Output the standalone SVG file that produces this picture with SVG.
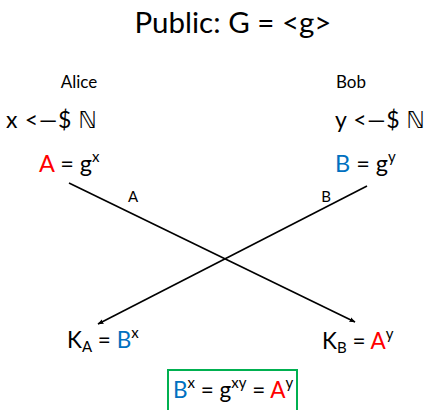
<svg xmlns="http://www.w3.org/2000/svg" width="427" height="410" viewBox="0 0 427 410">
<style>
text{font-family:Lato,"Open Sans","DejaVu Sans",sans-serif;fill:#000}
.r{fill:#FF0000}.b{fill:#0070C0}
.line{stroke:#000;stroke-width:1.6;fill:none}
</style>
<defs>
<marker id="ah" viewBox="0 0 10 10" refX="9" refY="5" markerWidth="6" markerHeight="6" orient="auto" markerUnits="userSpaceOnUse">
<path d="M0,1 L10,5 L0,9 z" fill="#000"/>
</marker>
</defs>
<rect width="427" height="410" fill="#fff"/>
<g id="title"><text x="233" y="33" font-size="29.5" text-anchor="middle">Public: G = &lt;g&gt;</text></g>
<g id="alice">
<text x="79" y="88" font-size="17" text-anchor="middle">Alice</text>
<text x="6" y="128" font-size="23" textLength="91" lengthAdjust="spacing">x &lt;—$ ℕ</text>
<text x="39" y="172" font-size="23.5"><tspan class="r">A</tspan> = g<tspan font-size="15" dy="-10">x</tspan></text>
</g>
<g id="bob">
<text x="351" y="88" font-size="17" text-anchor="middle">Bob</text>
<text x="335" y="128" font-size="23" textLength="90" lengthAdjust="spacing">y &lt;—$ ℕ</text>
<text x="335" y="172" font-size="23.5"><tspan class="b">B</tspan> = g<tspan font-size="15" dy="-10">y</tspan></text>
</g>
<g id="connectors">
<line class="line" x1="69" y1="183" x2="355" y2="322" marker-end="url(#ah)"/>
<line class="line" x1="367" y1="186" x2="98" y2="324" marker-end="url(#ah)"/>
<text x="133" y="202" font-size="15" text-anchor="middle">A</text>
<text x="326" y="202" font-size="15" text-anchor="middle">B</text>
</g>
<g id="ka">
<text x="67" y="348" font-size="22.5">K<tspan font-size="15" dy="4">A</tspan><tspan dy="-4"> = </tspan><tspan class="b">B</tspan><tspan font-size="15" dy="-10">x</tspan></text>
</g>
<g id="kb">
<text x="322" y="349" font-size="22.5">K<tspan font-size="15" dy="4">B</tspan><tspan dy="-4"> = </tspan><tspan class="r">A</tspan><tspan font-size="15" dy="-10">y</tspan></text>
</g>
<g id="result">
<rect x="168" y="370" width="129" height="45" fill="none" stroke="#00B050" stroke-width="2"/>
<text x="173" y="398" font-size="22.5"><tspan class="b">B</tspan><tspan font-size="15" dy="-10">x</tspan><tspan dy="10"> = g</tspan><tspan font-size="15" dy="-10">xy</tspan><tspan dy="10"> = </tspan><tspan class="r">A</tspan><tspan font-size="15" dy="-10">y</tspan></text>
</g>
</svg>
